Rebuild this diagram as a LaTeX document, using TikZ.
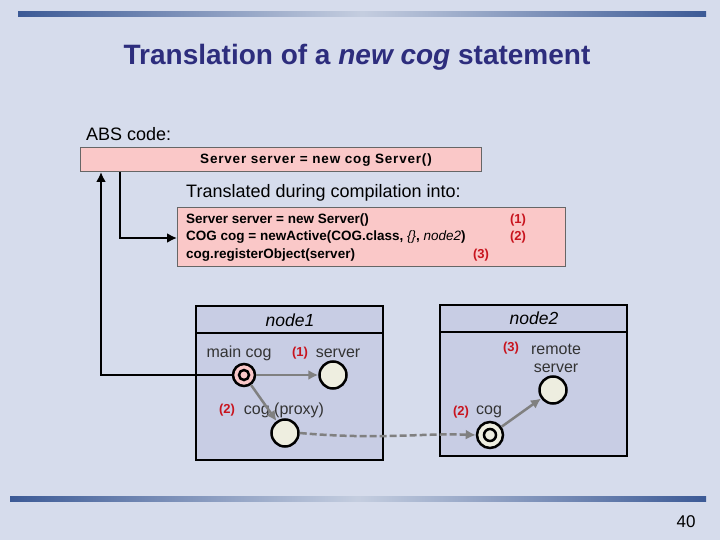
\documentclass[tikz,border=0pt]{standalone}
\usepackage{fontspec}
\setmainfont{Liberation Sans}
\usetikzlibrary{arrows.meta}
\definecolor{bg}{RGB}{214,220,236}
\definecolor{bar}{RGB}{60,90,150}
\definecolor{ttl}{RGB}{45,45,125}
\definecolor{pinkf}{RGB}{250,200,200}
\definecolor{nodef}{RGB}{200,205,228}
\definecolor{cogf}{RGB}{238,238,224}
\definecolor{redl}{RGB}{200,20,30}
\definecolor{arr}{RGB}{128,128,128}
\tikzset{
 codebox/.style={draw=gray!80!black,fill=pinkf,line width=1pt},
 nodebox/.style={draw=black,fill=nodef,line width=2.5pt},
 obj/.style={circle,draw=black,line width=2.5pt,fill=cogf,minimum size=27pt,inner sep=0pt},
 num/.style={text=redl,font=\fontsize{13}{15}\selectfont\bfseries},
 lab/.style={font=\fontsize{16}{18}\selectfont,text=black!80},
 garr/.style={draw=arr,line width=2.5pt,-{Latex[length=10pt,width=10pt]}},
 karr/.style={draw=black,line width=2.5pt,-{Latex[length=10pt,width=10pt]}},
 code/.style={font=\fontsize{13.5}{16}\selectfont\bfseries,anchor=west,inner sep=0pt}
}
\begin{document}
\begin{tikzpicture}[x=1pt,y=-1pt]
\fill[bg] (0,0) rectangle (720,540);
\useasboundingbox (0,0) rectangle (720,540);
\shade[left color=bar,right color=bar,middle color=white!70!bar] (18,12) rectangle (706,17);
\shade[left color=bar,right color=bar,middle color=white!70!bar] (10,496) rectangle (706,501);
\node[text=ttl,font=\fontsize{28}{32}\selectfont\bfseries] (title) at (357,57) {Translation of a \textit{new cog} statement};
\node[anchor=west,font=\fontsize{18}{20}\selectfont,inner sep=0pt] (abs) at (86,134) {ABS code:};
\draw[codebox] (80,148) rectangle (481,172);
\node[code,anchor=center,font=\fontsize{13.5}{16}\selectfont\bfseries\addfontfeatures{LetterSpace=6}] (l0) at (316,160) {Server server = new cog Server()};
\coordinate (b1a) at (101,172);
\coordinate (b1b) at (120,172);
\node[anchor=west,font=\fontsize{18}{20}\selectfont,inner sep=0pt] (tr) at (186,193) {Translated during compilation into:};
\draw[codebox] (177,208) rectangle (565,266);
\coordinate (b2) at (177,238);
\node[code] (c1) at (186,220) {Server server = new Server()};
\node[code] (c2) at (186,237) {COG cog = newActive(COG.class, \textmd{\textit{\{\}}}, \textmd{\textit{node2}})};
\node[code] (c3) at (186,255) {cog.registerObject(server)};
\node[num] (n1) at (518,220) {(1)};
\node[num] (n2) at (518,237) {(2)};
\node[num] (n3) at (481,255) {(3)};
% node boxes
\draw[nodebox] (196,306) rectangle (383,460);
\draw[black,line width=2.5pt] (196,333) -- (383,333);
\node[font=\fontsize{17.5}{20}\selectfont\itshape] (h1) at (290,320) {node1};
\draw[nodebox] (440,305) rectangle (627,456);
\draw[black,line width=2.5pt] (440,332) -- (627,332);
\node[font=\fontsize{17.5}{20}\selectfont\itshape] (h2) at (534,318) {node2};
% objects
\node[obj,fill=pinkf,minimum size=22pt] (main) at (244,375) {};
\draw[black,line width=2.5pt] (main) circle (5pt);
\node[obj] (srv) at (333,375) {};
\node[obj] (prx) at (285,433) {};
\node[obj,minimum size=26pt] (cog2) at (490,435) {};
\draw[black,line width=2.5pt] (cog2) circle (6pt);
\node[obj] (rem) at (553,390) {};
% labels
\node[lab] (lm) at (239,353) {main cog};
\node[num] (l1) at (300,353) {(1)};
\node[lab] (ls) at (338,353) {server};
\node[num] (l2) at (227,410) {(2)};
\node[lab] (lp) at (284,410) {cog (proxy)};
\node[num] (l3) at (511,348) {(3)};
\node[lab,align=center] (lr) at (556,358) {remote\\server};
\node[num] (l4) at (461,412) {(2)};
\node[lab] (lc) at (489,412) {cog};
% arrows
\draw[garr] (main) -- (srv);
\draw[garr] (main) -- (prx);
\draw[garr,dash pattern=on 7pt off 3pt] (prx.east) .. controls (380,440) and (420,433) .. (cog2.west);
\draw[garr] (cog2) -- (rem);
\draw[karr] (main.west) -- (101,375) -- (b1a);
\draw[karr] (b1b) -- (120,238) -- (b2);
\node[font=\fontsize{17}{19}\selectfont] (pg) at (686,522) {40};
\end{tikzpicture}
\end{document}
